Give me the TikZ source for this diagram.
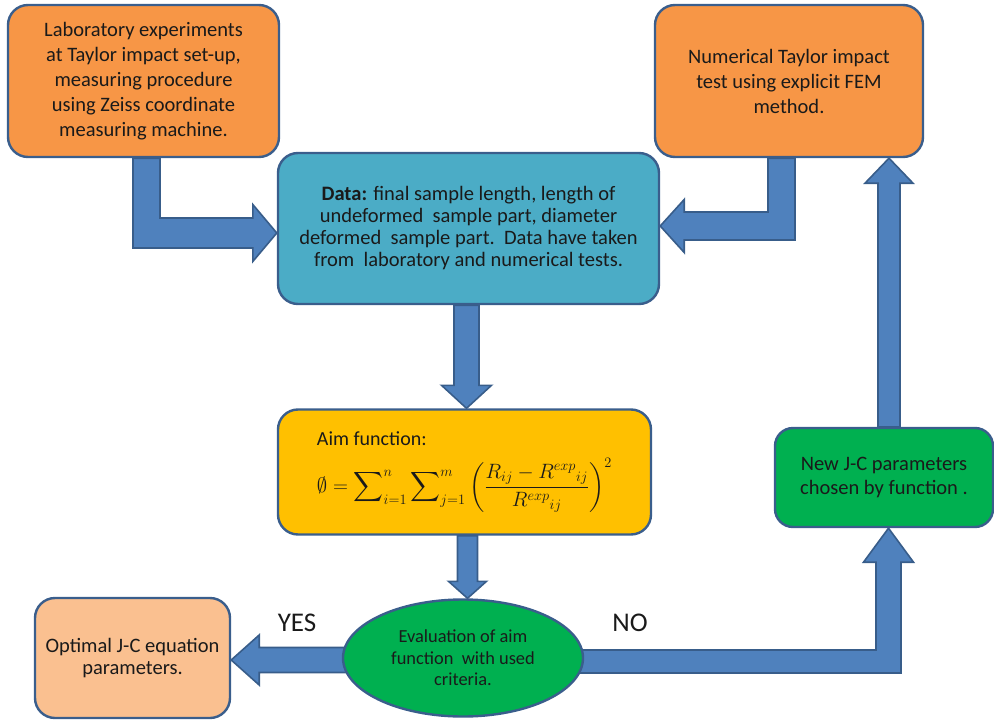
\documentclass[tikz,border=0pt]{standalone}
\usepackage{exscale}
\usepackage{fontspec}
\setmainfont{Carlito}
\usetikzlibrary{shapes.geometric,calc,backgrounds}
\definecolor{borderc}{HTML}{3A5E8C}
\definecolor{arrowf}{HTML}{4F81BD}
\definecolor{arrowb}{HTML}{385D8A}
\definecolor{orangef}{HTML}{F79646}
\definecolor{aquaf}{HTML}{4BACC6}
\definecolor{goldf}{HTML}{FFC000}
\definecolor{greenf}{HTML}{00B050}
\definecolor{peachf}{HTML}{FAC090}
\definecolor{txt}{HTML}{1A1A1A}
\begin{document}
\begin{tikzpicture}[x=1pt,y=-1pt,
  box/.style={draw=borderc, line width=2.4pt, rounded corners=20pt, inner sep=0pt, align=center, text=txt},
  blk/.style={fill=arrowf, draw=arrowb, line width=1.6pt, line join=miter},
  lbl/.style={font=\fontsize{27}{30}\selectfont, text=txt}]
\useasboundingbox (0,0) rectangle (994,720);

\node[box, fill=orangef, minimum width=271pt, minimum height=152pt, font=\fontsize{20.5}{25}\selectfont] (lab) at (143.5,81)
  {Laboratory experiments\\at Taylor impact set-up,\\measuring procedure\\using Zeiss coordinate\\measuring machine.};
\node[box, fill=orangef, minimum width=268pt, minimum height=152pt, font=\fontsize{20.5}{25}\selectfont] (num) at (789,81)
  {Numerical Taylor impact\\test using explicit FEM\\method.};
\node[box, fill=aquaf, minimum width=381pt, minimum height=151pt, font=\fontsize{20.5}{22}\selectfont] (data) at (468.5,228.5)
  {\textbf{Data:} final sample length, length of\\undeformed\ \ sample part, diameter\\deformed\ \ sample part.\ \ Data have taken\\from\ \ laboratory and numerical tests.};
\node[box, fill=goldf, minimum width=373pt, minimum height=125pt, align=left, font=\fontsize{20}{24}\selectfont] (aim) at (464.5,472)
  {Aim function:\\[12pt]{\fontsize{20.74}{24}\selectfont$\displaystyle \emptyset = \sum\nolimits_{i=1}^{n}\sum\nolimits_{j=1}^{m}\left(\frac{R_{ij}-R^{exp}{}_{ij}}{R^{exp}{}_{ij}}\right)^{2}$}};
\node[ellipse, draw=borderc, line width=2.4pt, fill=greenf, minimum width=240pt, minimum height=117pt, inner sep=0pt, align=center, text=txt, font=\fontsize{18.4}{21.5}\selectfont] (eval) at (463,658)
  {Evaluation of aim\\function\ \ with used\\criteria.};
\node[box, fill=greenf, rounded corners=18pt, minimum width=218pt, minimum height=99pt, font=\fontsize{20.5}{24}\selectfont] (new) at (884,477.5)
  {New J-C parameters\\chosen by function .};
\node[box, fill=peachf, minimum width=195pt, minimum height=120pt, font=\fontsize{20.5}{21.5}\selectfont] (opt) at (132.5,658)
  {Optimal J-C equation\\parameters.};

\node[lbl] (yes) at (297,623) {YES};
\node[lbl] (no) at (630,623) {NO};

\begin{pgfonlayer}{background}
% lab -> data
\draw[blk] let \p1=($(lab.south)+(3,0)$), \p2=($(data.west)+(0,4.5)$) in
  (\x1-13.5pt,\y1) -- (\x1+13.5pt,\y1) -- (\x1+13.5pt,\y2+15pt) -- (\x2-24pt,\y2+15pt) -- (\x2-24pt,\y2+28.5pt)
  -- (\x2,\y2) -- (\x2-24pt,\y2-28.5pt) -- (\x2-24pt,\y2-15pt) -- (\x1-13.5pt,\y2-15pt) -- cycle;
% num -> data
\draw[blk] let \p1=($(num.south)+(-7.5,0)$), \p2=($(data.east)+(0,-2.5)$) in
  (\x1+13.5pt,\y1) -- (\x1-13.5pt,\y1) -- (\x1-13.5pt,\y2+14pt) -- (\x2+24pt,\y2+14pt) -- (\x2+24pt,\y2+26.5pt)
  -- (\x2,\y2) -- (\x2+24pt,\y2-26.5pt) -- (\x2+24pt,\y2-14pt) -- (\x1+13.5pt,\y2-14pt) -- cycle;
% data -> aim
\draw[blk] let \p1=($(data.south)+(-2,0)$), \p2=(aim.north) in
  (\x1-12.5pt,\y1) -- (\x1+12.5pt,\y1) -- (\x1+12.5pt,\y2+23pt) -- (\x1+25pt,\y2+23pt) -- (\x1,\y2)
  -- (\x1-25pt,\y2+23pt) -- (\x1-12.5pt,\y2+23pt) -- cycle;
% aim -> eval
\draw[blk] let \p1=($(aim.south)+(3,0)$), \p2=(eval.north) in
  (\x1-10pt,\y1) -- (\x1+10pt,\y1) -- (\x1+10pt,\y2+17pt) -- (\x1+19pt,\y2+17pt) -- (\x1,\y2)
  -- (\x1-19pt,\y2+17pt) -- (\x1-10pt,\y2+17pt) -- cycle;
% eval -> opt (YES)
\draw[blk] let \p1=(eval.west), \p2=($(opt.east)+(0,2)$) in
  (\x1+10pt,\y2+12.5pt) -- (\x2+28pt,\y2+12.5pt) -- (\x2+28pt,\y2+25pt) -- (\x2,\y2)
  -- (\x2+28pt,\y2-25pt) -- (\x2+28pt,\y2-12.5pt) -- (\x1+10pt,\y2-12.5pt) -- cycle;
% eval -> new (NO)
\draw[blk] let \p1=(eval.east), \p2=($(new.south)+(4.5,0)$), \p3=($(eval.east)+(0,3.5)$) in
  (\x1-10pt,\y3+11.5pt) -- (\x2-12.5pt,\y3+11.5pt) -- (\x2-12.5pt,\y2-34pt) -- (\x2-25pt,\y2-34pt) -- (\x2,\y2)
  -- (\x2+25pt,\y2-34pt) -- (\x2+12.5pt,\y2-34pt) -- (\x2+12.5pt,\y3-11.5pt) -- (\x1-10pt,\y3-11.5pt) -- cycle;
% new -> num
\draw[blk] let \p1=($(new.north)+(5,0)$), \p2=(num.south) in
  (\x1-11pt,\y1) -- (\x1-11pt,\y2-25pt) -- (\x1-24pt,\y2-25pt) -- (\x1,\y2)
  -- (\x1+24pt,\y2-25pt) -- (\x1+11pt,\y2-25pt) -- (\x1+11pt,\y1) -- cycle;
\end{pgfonlayer}
\end{tikzpicture}
\end{document}
